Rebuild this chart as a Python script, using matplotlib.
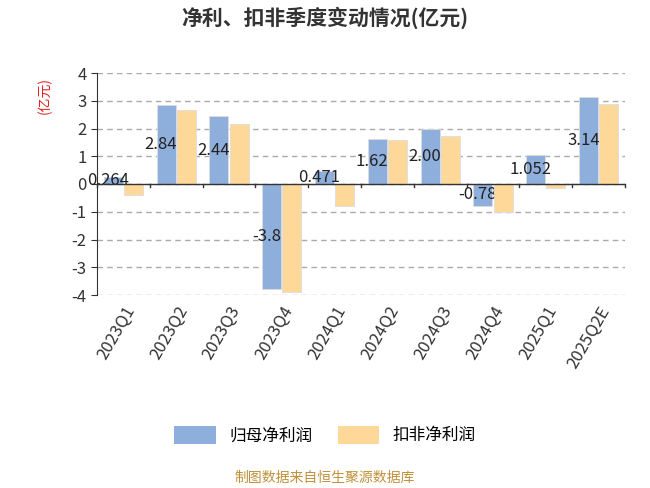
import matplotlib
matplotlib.use("Agg")
import matplotlib.pyplot as plt
import numpy as np
from matplotlib.patches import Patch

plt.rcParams['font.family'] = ['Noto Sans CJK SC', 'DejaVu Sans']

categories = ["2023Q1","2023Q2","2023Q3","2023Q4","2024Q1","2024Q2","2024Q3","2024Q4","2025Q1","2025Q2E"]
net_profit = [0.264, 2.84, 2.44, -3.8, 0.471, 1.62, 2.00, -0.78, 1.052, 3.14]
net_profit_labels = ["0.264","2.84","2.44","-3.8","0.471","1.62","2.00","-0.78","1.052","3.14"]
deducted = [-0.4, 2.65, 2.15, -3.9, -0.78, 1.58, 1.73, -1.0, -0.13, 2.87]
yticks = [-4,-3,-2,-1,0,1,2,3,4]

blue = "#8eaedb"; orange = "#fdd898"
fig = plt.figure(figsize=(6.5,4.88), dpi=100)
ax = fig.add_axes([97/650, 1-295/488, 528/650, 222/488])
x = np.arange(len(categories))
w = 0.36
ax.bar(x - w/2 - 0.01, net_profit, w, color=blue, edgecolor="#dddddd", linewidth=0.6, zorder=2)
for xi, v, t in zip(x, net_profit, net_profit_labels):
    ax.text(xi - w*0.8, v/2, t, ha="center", va="center", fontsize=12, color="#222222", zorder=2.5)
ax.bar(x + w/2 + 0.01, deducted, w, color=orange, edgecolor="#dddddd", linewidth=0.6, zorder=3)

ax.set_xlim(-0.5, len(categories)-0.5)
ax.set_ylim(-4, 4)
ax.set_yticks(yticks)
ax.set_yticklabels([str(t) for t in yticks], fontsize=12, color="#333333")
ax.yaxis.grid(True, linestyle=(0,(4,3)), color="#aaaaaa", linewidth=1)
ax.set_axisbelow(True)
for s in ["top","right","bottom"]:
    ax.spines[s].set_visible(False)
ax.spines["left"].set_color("#333333")
ax.axhline(0, color="#333333", linewidth=1, zorder=4)
ax.set_xticks(x)
ax.set_xticklabels(categories, rotation=60, ha="right", rotation_mode="anchor", fontsize=12, color="#333333")
ax.tick_params(axis="x", length=0, pad=6)
for xi in np.arange(-0.5, len(categories)):
    ax.plot([xi, xi], [0, -0.12], color="#333333", linewidth=1, zorder=4, clip_on=False)
ax.tick_params(axis="y", length=4, color="#333333")

fig.text(325/650, 1-18/488, "净利、扣非季度变动情况(亿元)", ha="center", va="center", fontsize=15, fontweight="bold", color="#333333")
fig.text(45/650, 1-95/488, "(亿元)", rotation=90, ha="center", va="center", fontsize=10, color="#e02020")
fig.legend(handles=[Patch(facecolor=blue, label="归母净利润"), Patch(facecolor=orange, label="扣非净利润")],
           loc="center", bbox_to_anchor=(325/650, 1-435/488), ncol=2, frameon=False, fontsize=12,
           handlelength=2.5, handleheight=1.3, columnspacing=1.5)
fig.text(325/650, 1-478/488, "制图数据来自恒生聚源数据库", ha="center", va="center", fontsize=10, color="#c0913a")
fig.savefig("out.png", dpi=100)
